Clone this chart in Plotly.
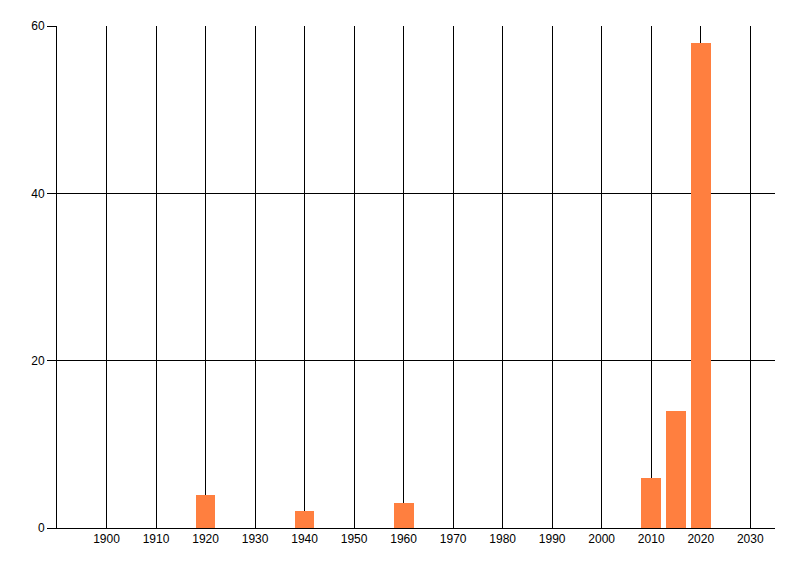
import plotly.graph_objects as go

years = [1920, 1940, 1960, 2010, 2015, 2020]
counts = [4, 2, 3, 6, 14, 58]
x_ticks = list(range(1900, 2031, 10))
y_ticks = [0, 20, 40, 60]

fig = go.Figure(go.Bar(x=years, y=counts, width=4, marker=dict(color="#FF7F3F", line=dict(width=0))))

fig.update_layout(
    width=800, height=576,
    margin=dict(l=49, r=33, t=18, b=56),
    paper_bgcolor="white", plot_bgcolor="white",
    font=dict(family="Liberation Sans", size=12, color="black"),
    showlegend=False,
    bargap=0,
)
fig.update_xaxes(
    range=[1890, 2035], tickvals=x_ticks, ticktext=[str(v) for v in x_ticks],
    showgrid=True, gridcolor="black", gridwidth=1,
    showline=True, linecolor="black", linewidth=1,
    ticks="", zeroline=False,
)
fig.update_yaxes(
    range=[0, 60], tickvals=y_ticks,
    showgrid=True, gridcolor="black", gridwidth=1,
    showline=True, linecolor="black", linewidth=1,
    ticks="outside", ticklen=9, tickcolor="black", zeroline=False,
)
fig.write_html("out.html")
